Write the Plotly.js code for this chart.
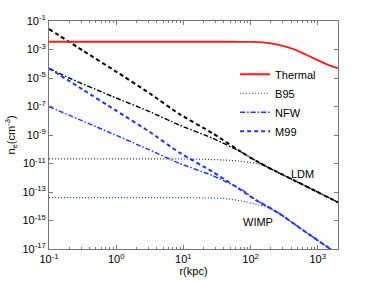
<!DOCTYPE html>
<html>
<head>
<meta charset="utf-8">
<script src="https://cdn.plot.ly/plotly-3.0.1.min.js"></script>
<style>html,body{margin:0;padding:0;background:#fff;}#chart{width:374px;height:281px;}</style>
</head>
<body>
<div id="chart"></div>
<script>
// ---- data ----
const thermalR = [0.1, 1, 10, 50, 100, 150, 264, 468, 824, 1455, 1930, 2000];
const thermalN = [3.5e-3, 3.5e-3, 3.5e-3, 3.5e-3, 3.4e-3, 3.2e-3, 2.1e-3, 9.3e-4, 2.7e-4, 8.1e-5, 5.2e-5, 5.0e-5];

const ldmM99R = [0.1, 0.316, 1, 3.13, 8.73, 27.2, 84.9, 168, 295, 631, 2000];
const ldmM99N = [2.75e-2, 8.7e-4, 2.8e-5, 8.5e-7, 2.95e-8, 1.32e-9, 4.0e-11, 6.46e-12, 1.70e-12, 2.88e-13, 1.9e-14];

const ldmNFWR = [0.1, 0.205, 0.849, 3.13, 8.73, 27.2, 67.6, 168, 295, 631, 2000];
const ldmNFWN = [4.7e-5, 9.5e-6, 5.4e-7, 4.4e-8, 5.0e-9, 5.9e-10, 7.6e-11, 6.46e-12, 1.70e-12, 2.88e-13, 1.9e-14];

const ldmB95R = [0.1, 1, 10, 20, 39.8, 67.6, 119, 168, 295, 631, 2000];
const ldmB95N = [2.1e-11, 2.1e-11, 2.1e-11, 1.95e-11, 1.78e-11, 1.48e-11, 1.02e-11, 6.46e-12, 1.70e-12, 2.88e-13, 1.9e-14];

const wimpM99R = [0.1, 0.316, 1, 3.13, 8.73, 27.2, 84.9, 119, 168, 264, 631, 1542, 2000];
const wimpM99N = [4.8e-5, 1.58e-6, 5.1e-8, 1.7e-9, 5.75e-11, 2.63e-12, 8.1e-14, 2.75e-14, 1.1e-14, 3.24e-15, 1.8e-16, 1.0e-17, 4.3e-18];

const wimpNFWR = [0.1, 0.849, 3.13, 8.73, 27.2, 75.7, 106, 168, 264, 631, 1542, 2000];
const wimpNFWN = [9.8e-8, 1.32e-9, 8.9e-11, 1.02e-11, 1.41e-12, 1.38e-13, 4.0e-14, 1.1e-14, 3.24e-15, 1.8e-16, 1.0e-17, 4.3e-18];

const wimpB95R = [0.1, 1, 10, 20, 38.5, 84.9, 133, 168, 264, 631, 1542, 2000];
const wimpB95N = [4.0e-14, 4.0e-14, 4.0e-14, 3.9e-14, 3.6e-14, 2.1e-14, 1.23e-14, 1.0e-14, 3.24e-15, 1.8e-16, 1.0e-17, 4.3e-18];

const xTickVals = [0.1, 1, 10, 100, 1000];
const xTickText = ['10<sup>-1</sup>', '10<sup>0</sup>', '10<sup>1</sup>', '10<sup>2</sup>', '10<sup>3</sup>'];
const yTickVals = [1e-1, 1e-3, 1e-5, 1e-7, 1e-9, 1e-11, 1e-13, 1e-15, 1e-17];
const yTickText = ['10<sup>-1</sup>', '10<sup>-3</sup>', '10<sup>-5</sup>', '10<sup>-7</sup>', '10<sup>-9</sup>',
                   '10<sup>-11</sup>', '10<sup>-13</sup>', '10<sup>-15</sup>', '10<sup>-17</sup>'];

// ---- styles ----
const RED = '#ff1a1a', BLUE = '#1a33ff', BLACK = '#000000';
const DASH = '4px,3px', DOT = '1px,2px', DASHDOT = '5px,2px,1.5px,2px';

const minorX = [];
for (let e = -1; e <= 3; e++) for (let m = 2; m <= 9; m++) { const v = m * Math.pow(10, e); if (v <= 2000) minorX.push(v); }

function tr(x, y, name, color, width, dash, show) {
  return {x: x, y: y, name: name, type: 'scatter', mode: 'lines', showlegend: show,
          line: {color: color, width: width, dash: dash, shape: 'spline', smoothing: 0.5}};
}

const data = [
  tr(ldmB95R, ldmB95N, 'LDM B95', '#333', 1.2, DOT, false),
  tr(ldmNFWR, ldmNFWN, 'LDM NFW', BLACK, 1.4, DASHDOT, false),
  tr(ldmM99R, ldmM99N, 'LDM M99', BLACK, 2, DASH, false),
  tr(thermalR, thermalN, 'Thermal', RED, 1.8, 'solid', true),
  tr(wimpB95R, wimpB95N, 'B95', BLUE, 1.2, DOT, true),
  tr(wimpNFWR, wimpNFWN, 'NFW', BLUE, 1.4, DASHDOT, true),
  tr(wimpM99R, wimpM99N, 'M99', BLUE, 2, DASH, true)
];

const axisCommon = {
  showline: true, linecolor: '#777', linewidth: 1, mirror: 'ticks',
  ticks: 'inside', ticklen: 4, tickcolor: '#777', showgrid: false, zeroline: false,
  tickfont: {size: 11, color: '#000'}
};

const layout = {
  width: 374, height: 281,
  margin: {l: 49, r: 36, t: 21, b: 32},
  paper_bgcolor: '#fff', plot_bgcolor: '#fff',
  font: {family: 'Liberation Sans, Arial, sans-serif', size: 11, color: '#000'},
  showlegend: true,
  legend: {x: 0.644, y: 0.83, xanchor: 'left', yanchor: 'top', bgcolor: 'rgba(0,0,0,0)',
           borderwidth: 0, font: {size: 11}},
  xaxis: Object.assign({}, axisCommon, {
    type: 'log', range: [-1, Math.log10(2000)],
    tickmode: 'array', tickvals: xTickVals, ticktext: xTickText,
    minor: {ticks: 'inside', ticklen: 2, tickcolor: '#777', tickmode: 'array', tickvals: minorX, showgrid: false},
    title: {text: 'r(kpc)', font: {size: 11}, standoff: 2}
  }),
  yaxis: Object.assign({}, axisCommon, {
    type: 'log', range: [-17, -1],
    tickmode: 'array', tickvals: yTickVals, ticktext: yTickText,
    title: {text: 'n<sub>e</sub>(cm<sup>-3</sup>)', font: {size: 11}, standoff: 4}
  }),
  annotations: [
    {xref: 'paper', yref: 'paper', x: 0.878, y: 0.328, xanchor: 'center', yanchor: 'middle',
     text: 'LDM', showarrow: false, font: {size: 11}},
    {xref: 'paper', yref: 'paper', x: 0.724, y: 0.12, xanchor: 'center', yanchor: 'middle',
     text: 'WIMP', showarrow: false, font: {size: 11}}
  ]
};

Plotly.newPlot('chart', data, layout, {staticPlot: true, displayModeBar: false});
</script>
</body>
</html>
